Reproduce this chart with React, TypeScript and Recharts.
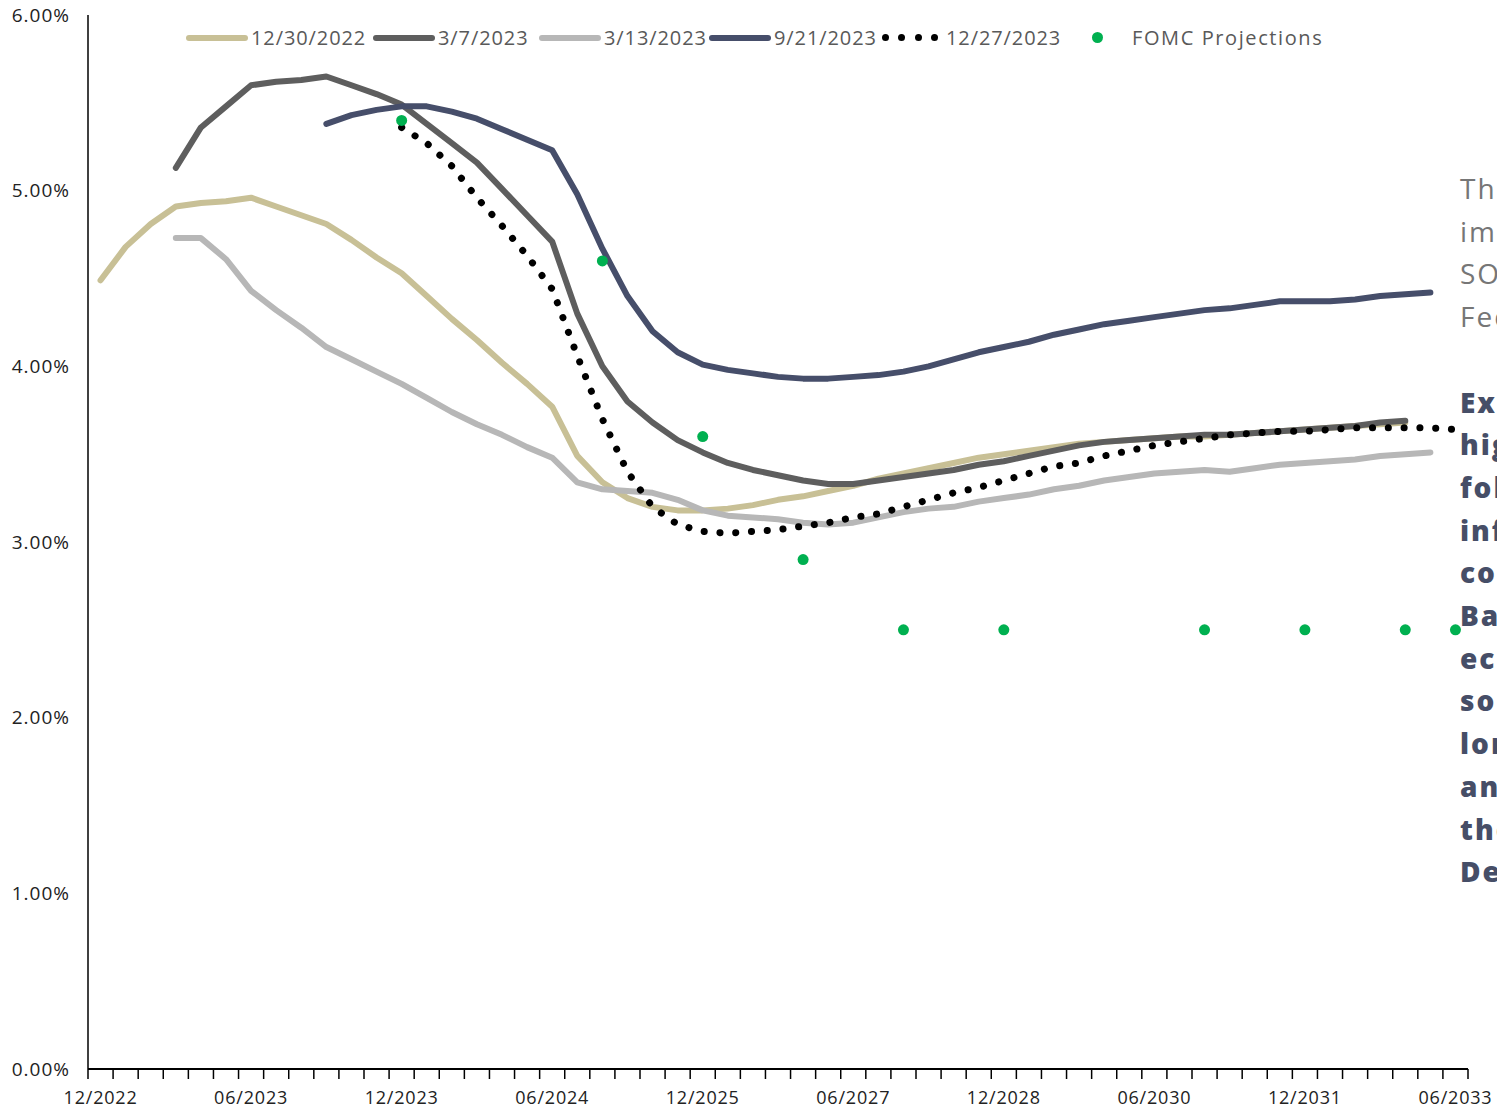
import React from "react";
import {
  ComposedChart,
  Line,
  XAxis,
  YAxis,
  Legend,
} from "recharts";

// category labels: monthly through 06/2024, quarterly after
const DATES = [
  "12/2022", "01/2023", "02/2023", "03/2023", "04/2023", "05/2023", "06/2023",
  "07/2023", "08/2023", "09/2023", "10/2023", "11/2023", "12/2023", "01/2024",
  "02/2024", "03/2024", "04/2024", "05/2024", "06/2024", "09/2024", "12/2024",
  "03/2025", "06/2025", "09/2025", "12/2025", "03/2026", "06/2026", "09/2026",
  "12/2026", "03/2027", "06/2027", "09/2027", "12/2027", "03/2028", "06/2028",
  "09/2028", "12/2028", "03/2029", "06/2029", "09/2029", "12/2029", "03/2030",
  "06/2030", "09/2030", "12/2030", "03/2031", "06/2031", "09/2031", "12/2031",
  "03/2032", "06/2032", "09/2032", "12/2032", "03/2033", "06/2033",
];

const _ = null;

const CURVE_1230 = [
  4.49, 4.68, 4.81, 4.91, 4.93, 4.94, 4.96, 4.91, 4.86, 4.81, 4.72, 4.62, 4.53,
  4.4, 4.27, 4.15, 4.02, 3.9, 3.77, 3.49, 3.34, 3.25, 3.2, 3.18, 3.18, 3.19,
  3.21, 3.24, 3.26, 3.29, 3.32, 3.36, 3.39, 3.42, 3.45, 3.48, 3.5, 3.52, 3.54,
  3.56, 3.57, 3.58, 3.59, 3.6, 3.6, 3.61, 3.62, 3.63, 3.64, 3.65, 3.66, 3.67,
  3.68, _, _,
];

const CURVE_0307 = [
  _, _, _, 5.13, 5.36, 5.48, 5.6, 5.62, 5.63, 5.65, 5.6, 5.55, 5.49, 5.38,
  5.27, 5.16, 5.01, 4.86, 4.71, 4.3, 4.0, 3.8, 3.68, 3.58, 3.51, 3.45, 3.41,
  3.38, 3.35, 3.33, 3.33, 3.35, 3.37, 3.39, 3.41, 3.44, 3.46, 3.49, 3.52, 3.55,
  3.57, 3.58, 3.59, 3.6, 3.61, 3.61, 3.62, 3.63, 3.64, 3.65, 3.66, 3.68, 3.69,
  _, _,
];

const CURVE_0313 = [
  _, _, _, 4.73, 4.73, 4.61, 4.43, 4.32, 4.22, 4.11, 4.04, 3.97, 3.9, 3.82,
  3.74, 3.67, 3.61, 3.54, 3.48, 3.34, 3.3, 3.29, 3.28, 3.24, 3.18, 3.15, 3.14,
  3.13, 3.11, 3.1, 3.11, 3.14, 3.17, 3.19, 3.2, 3.23, 3.25, 3.27, 3.3, 3.32,
  3.35, 3.37, 3.39, 3.4, 3.41, 3.4, 3.42, 3.44, 3.45, 3.46, 3.47, 3.49, 3.5,
  3.51, _,
];

const CURVE_0921 = [
  _, _, _, _, _, _, _, _, _, 5.38, 5.43, 5.46, 5.48, 5.48, 5.45, 5.41, 5.35,
  5.29, 5.23, 4.98, 4.67, 4.4, 4.2, 4.08, 4.01, 3.98, 3.96, 3.94, 3.93, 3.93,
  3.94, 3.95, 3.97, 4.0, 4.04, 4.08, 4.11, 4.14, 4.18, 4.21, 4.24, 4.26, 4.28,
  4.3, 4.32, 4.33, 4.35, 4.37, 4.37, 4.37, 4.38, 4.4, 4.41, 4.42, _,
];

const CURVE_1227 = [
  _, _, _, _, _, _, _, _, _, _, _, _, 5.36, 5.27, 5.14, 4.96, 4.8, 4.63, 4.44,
  4.06, 3.7, 3.4, 3.2, 3.1, 3.06, 3.05, 3.06, 3.07, 3.09, 3.11, 3.14, 3.16,
  3.2, 3.24, 3.28, 3.31, 3.35, 3.39, 3.43, 3.45, 3.49, 3.52, 3.55, 3.57, 3.59,
  3.61, 3.62, 3.63, 3.63, 3.64, 3.65, 3.65, 3.65, 3.65, 3.64,
];

const FOMC = [
  _, _, _, _, _, _, _, _, _, _, _, _, 5.4, _, _, _, _, _, _, _, 4.6, _, _, _,
  3.6, _, _, _, 2.9, _, _, _, 2.5, _, _, _, 2.5, _, _, _, _, _, _, _, 2.5, _,
  _, _, 2.5, _, _, _, 2.5, _, 2.5,
];

const Y_TICKS = [0, 1, 2, 3, 4, 5, 6];
const LABEL_EVERY = 6;

const SERIES = [
  { key: "c1230", name: "12/30/2022", color: "#C8C096", values: CURVE_1230, w: 187 },
  { key: "c0307", name: "3/7/2023", color: "#5E5E5E", values: CURVE_0307, w: 166 },
  { key: "c0313", name: "3/13/2023", color: "#B7B7B7", values: CURVE_0313, w: 170 },
  { key: "c0921", name: "9/21/2023", color: "#464E6A", values: CURVE_0921, w: 173 },
];

const FONT = "'Open Sans', Lato, sans-serif";

const data = DATES.map((d, i) => {
  const row: Record<string, number | string | null> = { i, date: d };
  SERIES.forEach((s) => (row[s.key] = s.values[i]));
  row.c1227 = CURVE_1227[i];
  row.fomc = FOMC[i];
  return row;
});

// tick lines sit between categories, labels on every 6th category
const boundaryTicks = DATES.map((_d, i) => i - 0.5).concat(DATES.length - 0.5);
const labelTicks = DATES.map((_d, i) => i).filter((i) => i % LABEL_EVERY === 0);
const X_TICKS = [...boundaryTicks, ...labelTicks].sort((a, b) => a - b);

function XTick(props: any) {
  const { x, y, payload } = props;
  const v = payload.value as number;
  if (!Number.isInteger(v)) {
    return <line x1={x} x2={x} y1={y - 10} y2={y} stroke="#000" strokeWidth={1.5} />;
  }
  return (
    <text
      x={x}
      y={y + 25}
      textAnchor="middle"
      fontSize={18}
      fontFamily={FONT}
      letterSpacing={0.8}
      fill="#222"
    >
      {DATES[v]}
    </text>
  );
}

function LegendContent() {
  const text = {
    fontSize: 20,
    letterSpacing: 0.9,
    color: "#595959",
    fontFamily: FONT,
    whiteSpace: "nowrap" as const,
  };
  const bar = (c: string) => (
    <span
      style={{
        display: "inline-block",
        width: 62,
        height: 6,
        borderRadius: 3,
        background: c,
        marginRight: 3,
        flex: "none",
      }}
    />
  );
  return (
    <div style={{ display: "flex", alignItems: "center" }}>
      {SERIES.map((s) => (
        <span key={s.key} style={{ display: "flex", alignItems: "center", width: s.w }}>
          {bar(s.color)}
          <span style={text}>{s.name}</span>
        </span>
      ))}
      <span style={{ display: "flex", alignItems: "center", width: 210 }}>
        <span style={{ display: "flex", width: 56, justifyContent: "space-between", marginRight: 8 }}>
          {[0, 1, 2, 3].map((k) => (
            <span
              key={k}
              style={{ width: 7, height: 7, borderRadius: 4, background: "#000", display: "inline-block" }}
            />
          ))}
        </span>
        <span style={text}>12/27/2023</span>
      </span>
      <span style={{ display: "flex", alignItems: "center" }}>
        <span
          style={{
            width: 11,
            height: 11,
            borderRadius: 6,
            background: "#00B050",
            display: "inline-block",
            marginRight: 29,
          }}
        />
        <span style={{ ...text, letterSpacing: 1.6 }}>FOMC Projections</span>
      </span>
    </div>
  );
}

const NOTE_PLAIN = ["The market-", "implied path of", "SOFR and the", "Fed funds rate"];
const NOTE_BOLD = [
  "Expectations",
  "higher for",
  "following",
  "inflation",
  "continues",
  "Bank",
  "economy",
  "solid",
  "longer",
  "and",
  "the",
  "Debt",
];

export default function App() {
  return (
    <div
      style={{
        position: "fixed",
        left: 0,
        top: 0,
        width: 1497,
        height: 1108,
        overflow: "hidden",
        background: "#fff",
      }}
    >
      <ComposedChart
        width={1497}
        height={1108}
        data={data}
        margin={{ top: 15, right: 29, left: 0, bottom: 0 }}
      >
        <XAxis
          dataKey="i"
          type="number"
          domain={[-0.5, DATES.length - 0.5]}
          ticks={X_TICKS}
          interval={0}
          tick={<XTick />}
          tickLine={false}
          tickSize={10}
          tickMargin={0}
          height={39}
          axisLine={{ stroke: "#000", strokeWidth: 2 }}
        />
        <YAxis
          type="number"
          domain={[0, 6]}
          ticks={Y_TICKS}
          interval={0}
          width={88}
          tickLine={false}
          tickMargin={12}
          axisLine={{ stroke: "#000", strokeWidth: 1.5 }}
          tickFormatter={(v) => `${Number(v).toFixed(2)}%`}
          tick={{ fontSize: 19, fill: "#222", fontFamily: FONT, letterSpacing: 1 }}
        />
        <Legend
          verticalAlign="middle"
          align="center"
          content={<LegendContent />}
          wrapperStyle={{ top: 24, left: 186, width: "auto" }}
        />
        {SERIES.map((s) => (
          <Line
            key={s.key}
            dataKey={s.key}
            name={s.name}
            type="linear"
            stroke={s.color}
            strokeWidth={6}
            strokeLinecap="round"
            strokeLinejoin="round"
            dot={false}
            activeDot={false}
            connectNulls={false}
            isAnimationActive={false}
          />
        ))}
        <Line
          dataKey="c1227"
          name="12/27/2023"
          type="linear"
          stroke="#000"
          strokeWidth={7}
          strokeLinecap="round"
          strokeDasharray="0.1 15.7"
          dot={false}
          activeDot={false}
          isAnimationActive={false}
        />
        <Line
          dataKey="fomc"
          name="FOMC Projections"
          stroke="none"
          dot={{ r: 5.5, fill: "#00B050", stroke: "none" }}
          activeDot={false}
          isAnimationActive={false}
        />
      </ComposedChart>
      <div
        style={{
          position: "absolute",
          left: 1460,
          top: 167,
          width: 300,
          fontFamily: FONT,
          fontSize: 28,
          letterSpacing: 2,
          lineHeight: "42.7px",
          whiteSpace: "nowrap",
        }}
      >
        {NOTE_PLAIN.map((t) => (
          <div key={t} style={{ color: "#767676" }}>
            {t}
          </div>
        ))}
        <div>&nbsp;</div>
        {NOTE_BOLD.map((t) => (
          <div key={t} style={{ color: "#464E67", fontWeight: 800 }}>
            {t}
          </div>
        ))}
      </div>
    </div>
  );
}
